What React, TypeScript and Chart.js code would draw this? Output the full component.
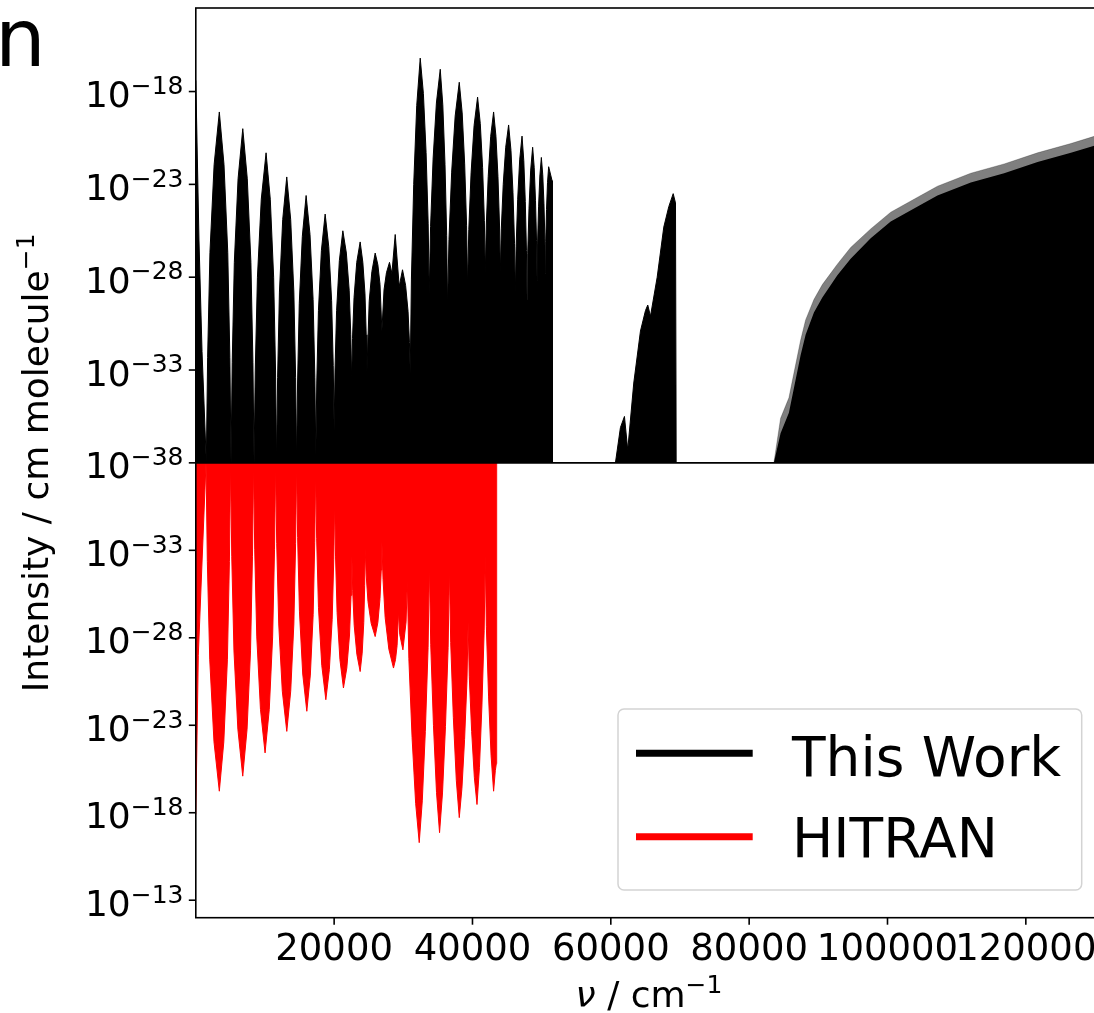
import React, { useEffect, useRef } from 'react';
import { Chart, registerables } from 'chart.js';

Chart.register(...registerables);

// ---- Data: wavenumber (cm^-1) and log10 of line intensity (cm/molecule) envelopes ----
// "This Work" band envelope, 0 - 70000 cm^-1
const thisWorkNu = [
  0, 460, 900, 1520, 1708, 2046, 2648, 3400, 4078, 4620, 4925, 5094,
  5264, 5569, 6112, 6790, 7443, 7966, 8260, 8423,
  8597, 8909, 9465, 10160, 10768, 11254, 11527, 11679,
  11826, 12091, 12562, 13150, 13719, 14175, 14431, 14573,
  14711, 14959, 15399, 15950, 16511, 16959, 17212, 17352,
  17487, 17729, 18161, 18700, 19220, 19636, 19870, 20000,
  20126, 20353, 20756, 21260, 21769, 22177, 22406, 22533,
  22656, 22877, 23269, 23760, 24149, 24461, 24636, 24733,
  25069, 25454, 25934, 26322, 26632, 26904, 27212, 27563, 28003, 28351, 28829, 29408, 29885,
  30331, 30687, 30888, 30999,
  31173, 31505, 31940, 32446, 32902, 33294, 33594, 33750,
  33941, 34306, 34783, 35340, 35710, 36028, 36271, 36398,
  36601, 36990, 37498, 38090, 38511, 38871, 39148, 39292,
  39466, 39798, 40233, 40739, 41129, 41463, 41719, 41853,
  41997, 42274, 42634, 43055, 43394, 43685, 43908, 44024,
  44168, 44445, 44805, 45226, 45565, 45856, 46079, 46195,
  46311, 46534, 46825, 47164, 47418, 47635, 47802, 47889,
  47986, 48172, 48415, 48699, 48922, 49112, 49259, 49335,
  49410, 49553, 49740, 49958, 50161, 50334, 50468, 50537,
  50594, 50704, 50847, 51014, 51506, 51549,
  60667, 61391, 61970, 62448, 63316, 64286, 65009, 65342, 65733, 66702, 67658, 68381, 69018, 69351, 69452,
];
const thisWorkLogI = [
  -17.4, -26.0, -32.0, -38, -32.33, -26.66, -21.94, -19.1, -21.94, -26.66, -32.33, -38,
  -32.6, -27.2, -22.7, -20.0, -22.7, -27.2, -32.6, -38,
  -33.0, -28.0, -23.8, -21.3, -23.8, -28.0, -33.0, -38,
  -33.4, -28.8, -24.9, -22.6, -24.9, -28.8, -33.4, -38,
  -33.7, -29.4, -25.8, -23.6, -25.7, -29.2, -33.4, -37.6,
  -33.7, -29.8, -26.55, -24.6, -26.35, -29.26, -32.76, -36.25,
  -33.0, -29.8, -27.1, -25.5, -26.7, -28.7, -31.1, -33.55,
  -31.3, -29.1, -27.2, -26.1, -27.2, -28.9, -31.1, -33.2,
  -29.3, -27.7, -26.7, -27.33, -28.38, -30.9, -28.68, -27.76, -27.2, -27.8, -25.7, -28.5, -27.6,
  -28.44, -29.84, -31.52, -33.2,
  -28.1, -23.0, -18.75, -16.2, -18.1, -21.28, -25.09, -28.9,
  -25.27, -21.64, -18.62, -16.8, -18.72, -21.92, -25.76, -29.6,
  -25.97, -22.34, -19.32, -17.5, -19.15, -21.9, -25.2, -28.5,
  -25.44, -22.38, -19.83, -18.3, -19.73, -22.1, -24.95, -27.8,
  -25.19, -22.58, -20.41, -19.1, -20.41, -22.58, -25.19, -27.8,
  -25.4, -23.0, -21.0, -19.8, -21.17, -23.44, -26.17, -28.9,
  -26.35, -23.8, -21.68, -20.4, -21.72, -23.92, -26.56, -29.2,
  -26.74, -24.28, -22.23, -21.0, -22.08, -23.88, -26.04, -28.2,
  -26.21, -24.21, -22.55, -21.55, -22.49, -24.05, -25.93, -27.8,
  -26.08, -24.35, -22.91, -22.05, -22.8, -38,
  -38, -36.1, -35.5, -37.3, -33.7, -30.9, -29.8, -29.5, -30.1, -28.0, -25.3, -24.2, -23.5, -24.0, -38,
];
// "This Work" high-energy continuum: tips of the dense lines, and the solid core below them
const thisWorkHighNu = [
  83576, 84545, 85746, 87439, 88163, 89364, 90580, 92751, 94676, 97570, 100465, 103837, 107224,
  112043, 116862, 121696, 126515, 130000,
];
const thisWorkHighTipLogI = [
  -38, -35.6, -34.5, -31.4, -30.3, -29.2, -28.4, -27.3, -26.4, -25.4, -24.5, -23.8, -23.1,
  -22.4, -21.9, -21.3, -20.8, -20.4,
];
const thisWorkHighCoreLogI = [
  -38, -36.4, -35.3, -32.2, -31.1, -29.9, -29.1, -27.9, -27.0, -25.9, -25.0, -24.3, -23.6,
  -22.9, -22.4, -21.8, -21.3, -20.9,
];
// HITRAN band envelope
const hitranNu = [
  0, 362, 1476, 1668, 2015, 2631, 3401, 4049, 4568, 4860, 5022,
  5198, 5516, 6081, 6787, 7412, 7912, 8194, 8350,
  8516, 8816, 9349, 10015, 10623, 11109, 11382, 11534,
  11696, 11988, 12507, 13155, 13722, 14176, 14431, 14573,
  14721, 14987, 15459, 16050, 16559, 16967, 17196, 17323,
  17471, 17736, 18209, 18799, 19309, 19716, 19946, 20073,
  20200, 20429, 20837, 21346, 21832, 22222, 22440, 22562,
  22682, 22898, 23283, 23763, 24053, 24284, 24415, 24487,
  24632, 24892, 25355, 25934, 26322, 26632, 26807, 26904,
  27072, 27374, 27911, 28582, 28872, 29103, 29306, 29484, 29943, 30402, 30580,
  30804, 31269, 31785, 32302, 32744, 33185, 33583, 33774,
  33965, 34360, 34800, 35240, 35668, 36095, 36480, 36665,
  36850, 37235, 37663, 38091, 38475, 38859, 39205, 39371,
  39538, 39883, 40268, 40652, 41010, 41368, 41691, 41846,
  42003, 42330, 42692, 43055, 43300, 43445, 43500,
];
const hitranLogI = [
  -17.9, -27.0, -38, -32.37, -26.74, -22.05, -19.23, -22.05, -26.74, -32.37, -38,
  -32.63, -27.25, -22.78, -20.09, -22.78, -27.25, -32.63, -38,
  -33.03, -28.05, -23.91, -21.42, -23.91, -28.05, -33.03, -38,
  -33.4, -28.79, -24.95, -22.65, -24.95, -28.79, -33.4, -38,
  -33.74, -29.48, -25.93, -23.8, -25.87, -29.32, -33.46, -37.6,
  -33.66, -29.72, -26.43, -24.46, -26.18, -29.04, -32.47, -35.9,
  -32.67, -29.44, -26.75, -25.13, -26.27, -28.16, -30.43, -32.7,
  -30.71, -28.72, -27.06, -26.07, -27.12, -28.88, -30.99, -33.1,
  -31.59, -30.08, -28.82, -28.07, -28.88, -30.24, -31.87, -33.5,
  -31.33, -29.16, -27.35, -26.27, -26.75, -27.56, -29.5, -28.19, -27.31, -28.91, -31.3,
  -26.8, -22.29, -18.54, -16.29, -18.68, -22.65, -27.43, -32.2,
  -27.6, -23.0, -19.16, -16.86, -19.13, -22.92, -27.46, -32.0,
  -27.72, -23.43, -19.86, -17.72, -19.4, -22.19, -25.55, -28.9,
  -25.77, -22.64, -20.03, -18.47, -20.6, -24.16, -28.43, -32.7,
  -28.66, -24.62, -21.25, -19.23, -20.4, -20.8, -38,
];

const xTicks = [20000, 40000, 60000, 80000, 100000, 120000];
const yTopTicks = [-38, -33, -28, -23, -18];
const yBottomTicks = [-33, -28, -23, -18, -13];
const seriesLabels = ['This Work', 'HITRAN'];
const seriesColors = ['#000000', '#ff0000'];

const FONT = '"DejaVu Sans", sans-serif';
const CANVAS_W = 1100;
const CANVAS_H = 1013;

function drawPower(ctx: CanvasRenderingContext2D, right: number, py: number, exp: number) {
  const sup = (exp < 0 ? '\u2212' : '') + String(Math.abs(exp));
  ctx.font = `25px ${FONT}`;
  const ws = ctx.measureText(sup).width;
  ctx.font = `36px ${FONT}`;
  const wm = ctx.measureText('10').width;
  const x0 = right - ws - wm;
  ctx.textAlign = 'left';
  ctx.textBaseline = 'alphabetic';
  ctx.fillText('10', x0, py + 15.6);
  ctx.font = `25px ${FONT}`;
  ctx.fillText(sup, x0 + wm, py + 2.3);
}

const decorPlugin = {
  id: 'decor',
  afterDraw(chart: any) {
    const ctx: CanvasRenderingContext2D = chart.ctx;
    const ca = chart.chartArea;
    const xs = chart.scales.x;
    const yt = chart.scales.yTop;
    const yb = chart.scales.yBot;
    ctx.save();
    ctx.fillStyle = '#000';
    ctx.strokeStyle = '#000';
    ctx.lineWidth = 1.6;

    // spines
    ctx.strokeRect(ca.left, ca.top, ca.right - ca.left, ca.bottom - ca.top);
    const mid = yt.getPixelForValue(-38);
    ctx.beginPath();
    ctx.moveTo(ca.left, mid);
    ctx.lineTo(ca.right, mid);
    ctx.stroke();

    // y ticks
    const labelRight = ca.left - 12.3;
    yTopTicks.forEach((v) => {
      const py = yt.getPixelForValue(v);
      ctx.beginPath();
      ctx.moveTo(ca.left - 7, py);
      ctx.lineTo(ca.left, py);
      ctx.stroke();
      drawPower(ctx, labelRight, py, v);
    });
    yBottomTicks.forEach((v) => {
      const py = yb.getPixelForValue(v);
      ctx.beginPath();
      ctx.moveTo(ca.left - 7, py);
      ctx.lineTo(ca.left, py);
      ctx.stroke();
      drawPower(ctx, labelRight, py, v);
    });

    // x ticks
    ctx.font = `37px ${FONT}`;
    ctx.textAlign = 'center';
    ctx.textBaseline = 'alphabetic';
    xTicks.forEach((v) => {
      const px = xs.getPixelForValue(v);
      ctx.beginPath();
      ctx.moveTo(px, ca.bottom);
      ctx.lineTo(px, ca.bottom + 7);
      ctx.stroke();
      ctx.fillText(String(v), px, ca.bottom + 42.3);
    });

    // x label: ν / cm^-1
    {
      ctx.textAlign = 'left';
      ctx.font = `italic 36px ${FONT}`;
      const w1 = ctx.measureText('\u03bd').width;
      ctx.font = `36px ${FONT}`;
      const w2 = ctx.measureText(' / cm').width;
      ctx.font = `25px ${FONT}`;
      const w3 = ctx.measureText('\u22121').width;
      const cx = 649;
      const base = 1007;
      let x = cx - (w1 + w2 + w3) / 2;
      ctx.font = `italic 36px ${FONT}`;
      ctx.fillText('\u03bd', x, base);
      x += w1;
      ctx.font = `36px ${FONT}`;
      ctx.fillText(' / cm', x, base);
      x += w2;
      ctx.font = `25px ${FONT}`;
      ctx.fillText('\u22121', x, base - 14);
    }

    // y label
    {
      ctx.save();
      ctx.translate(48, (ca.top + ca.bottom) / 2);
      ctx.rotate(-Math.PI / 2);
      ctx.textAlign = 'left';
      ctx.font = `36px ${FONT}`;
      const main = 'Intensity / cm molecule';
      const w1 = ctx.measureText(main).width;
      ctx.font = `25px ${FONT}`;
      const w2 = ctx.measureText('\u22121').width;
      let x = -(w1 + w2) / 2;
      ctx.font = `36px ${FONT}`;
      ctx.fillText(main, x, 0);
      x += w1;
      ctx.font = `25px ${FONT}`;
      ctx.fillText('\u22121', x, -14);
      ctx.restore();
    }

    // legend
    {
      const lx = 618, ly = 709, lw = 463.7, lh = 181, r = 6;
      ctx.beginPath();
      ctx.moveTo(lx + r, ly);
      ctx.lineTo(lx + lw - r, ly);
      ctx.arcTo(lx + lw, ly, lx + lw, ly + r, r);
      ctx.lineTo(lx + lw, ly + lh - r);
      ctx.arcTo(lx + lw, ly + lh, lx + lw - r, ly + lh, r);
      ctx.lineTo(lx + r, ly + lh);
      ctx.arcTo(lx, ly + lh, lx, ly + lh - r, r);
      ctx.lineTo(lx, ly + r);
      ctx.arcTo(lx, ly, lx + r, ly, r);
      ctx.closePath();
      ctx.fillStyle = 'rgba(255,255,255,0.8)';
      ctx.fill();
      ctx.strokeStyle = '#d3d3d3';
      ctx.lineWidth = 1.5;
      ctx.stroke();

      const rows = [753.3, 836.7];
      const bases = [776, 856.7];
      seriesLabels.forEach((lab, i) => {
        ctx.strokeStyle = seriesColors[i];
        ctx.lineWidth = 7;
        ctx.lineCap = 'butt';
        ctx.beginPath();
        ctx.moveTo(636, rows[i]);
        ctx.lineTo(752.7, rows[i]);
        ctx.stroke();
        ctx.fillStyle = '#000';
        ctx.font = `55px ${FONT}`;
        ctx.textAlign = 'left';
        ctx.fillText(lab, 792, bases[i]);
      });
    }

    // clipped text from the neighbouring panel
    ctx.fillStyle = '#000';
    ctx.font = `80px ${FONT}`;
    ctx.textAlign = 'left';
    ctx.fillText('n', -5, 66);

    ctx.restore();
  },
};

export default function App() {
  const canvasRef = useRef<HTMLCanvasElement | null>(null);

  useEffect(() => {
    const canvas = canvasRef.current;
    if (!canvas) return;
    const topData = thisWorkNu.map((x, i) => ({ x, y: thisWorkLogI[i] }));
    const highTip = thisWorkHighNu.map((x, i) => ({ x, y: thisWorkHighTipLogI[i] }));
    const highCore = thisWorkHighNu.map((x, i) => ({ x, y: thisWorkHighCoreLogI[i] }));
    const botData = hitranNu.map((x, i) => ({ x, y: hitranLogI[i] }));
    const common = { pointRadius: 0, tension: 0, fill: { value: -38 } };
    const chart = new Chart(canvas, {
      type: 'line',
      data: {
        datasets: [
          {
            ...common,
            label: seriesLabels[0],
            data: topData,
            yAxisID: 'yTop',
            borderColor: seriesColors[0],
            backgroundColor: seriesColors[0],
            borderWidth: 1,
            order: 0,
          },
          {
            ...common,
            label: seriesLabels[0] + ' core',
            data: highCore,
            yAxisID: 'yTop',
            borderColor: seriesColors[0],
            backgroundColor: seriesColors[0],
            borderWidth: 0,
            order: 1,
          },
          {
            ...common,
            label: seriesLabels[0] + ' tips',
            data: highTip,
            yAxisID: 'yTop',
            borderColor: 'rgba(0,0,0,0.25)',
            backgroundColor: 'rgba(0,0,0,0.5)',
            borderWidth: 1,
            order: 2,
          },
          {
            ...common,
            label: seriesLabels[1],
            data: botData,
            yAxisID: 'yBot',
            borderColor: seriesColors[1],
            backgroundColor: seriesColors[1],
            borderWidth: 1,
            order: 3,
          },
        ],
      },
      options: {
        responsive: false,
        animation: false,
        devicePixelRatio: 1,
        layout: { padding: { left: 195.8, right: CANVAS_W - 1095, top: 8, bottom: CANVAS_H - 917.7 } },
        plugins: { legend: { display: false }, tooltip: { enabled: false } },
        scales: {
          x: {
            type: 'linear',
            position: 'bottom',
            min: 0,
            max: 130000,
            grid: { display: false, drawTicks: false },
            border: { display: false },
            ticks: { display: false },
            afterFit: (s: any) => { s.height = 0; },
          },
          yTop: {
            type: 'linear',
            position: 'left',
            stack: 'panels',
            stackWeight: 1,
            weight: 2,
            min: -38,
            max: -13.5,
            grid: { display: false, drawTicks: false },
            border: { display: false },
            ticks: { display: false },
            afterFit: (s: any) => { s.width = 0; },
          },
          yBot: {
            type: 'linear',
            position: 'left',
            stack: 'panels',
            stackWeight: 1,
            weight: 1,
            reverse: true,
            min: -38,
            max: -12,
            grid: { display: false, drawTicks: false },
            border: { display: false },
            ticks: { display: false },
            afterFit: (s: any) => { s.width = 0; },
          },
        } as any,
      },
      plugins: [decorPlugin],
    });
    return () => chart.destroy();
  }, []);

  return (
    <div style={{ position: 'absolute', left: 0, top: 0, width: 1094, height: 1013, overflow: 'hidden', background: '#fff' }}>
      <canvas ref={canvasRef} width={CANVAS_W} height={CANVAS_H} style={{ width: CANVAS_W, height: CANVAS_H, display: 'block' }} />
    </div>
  );
}
